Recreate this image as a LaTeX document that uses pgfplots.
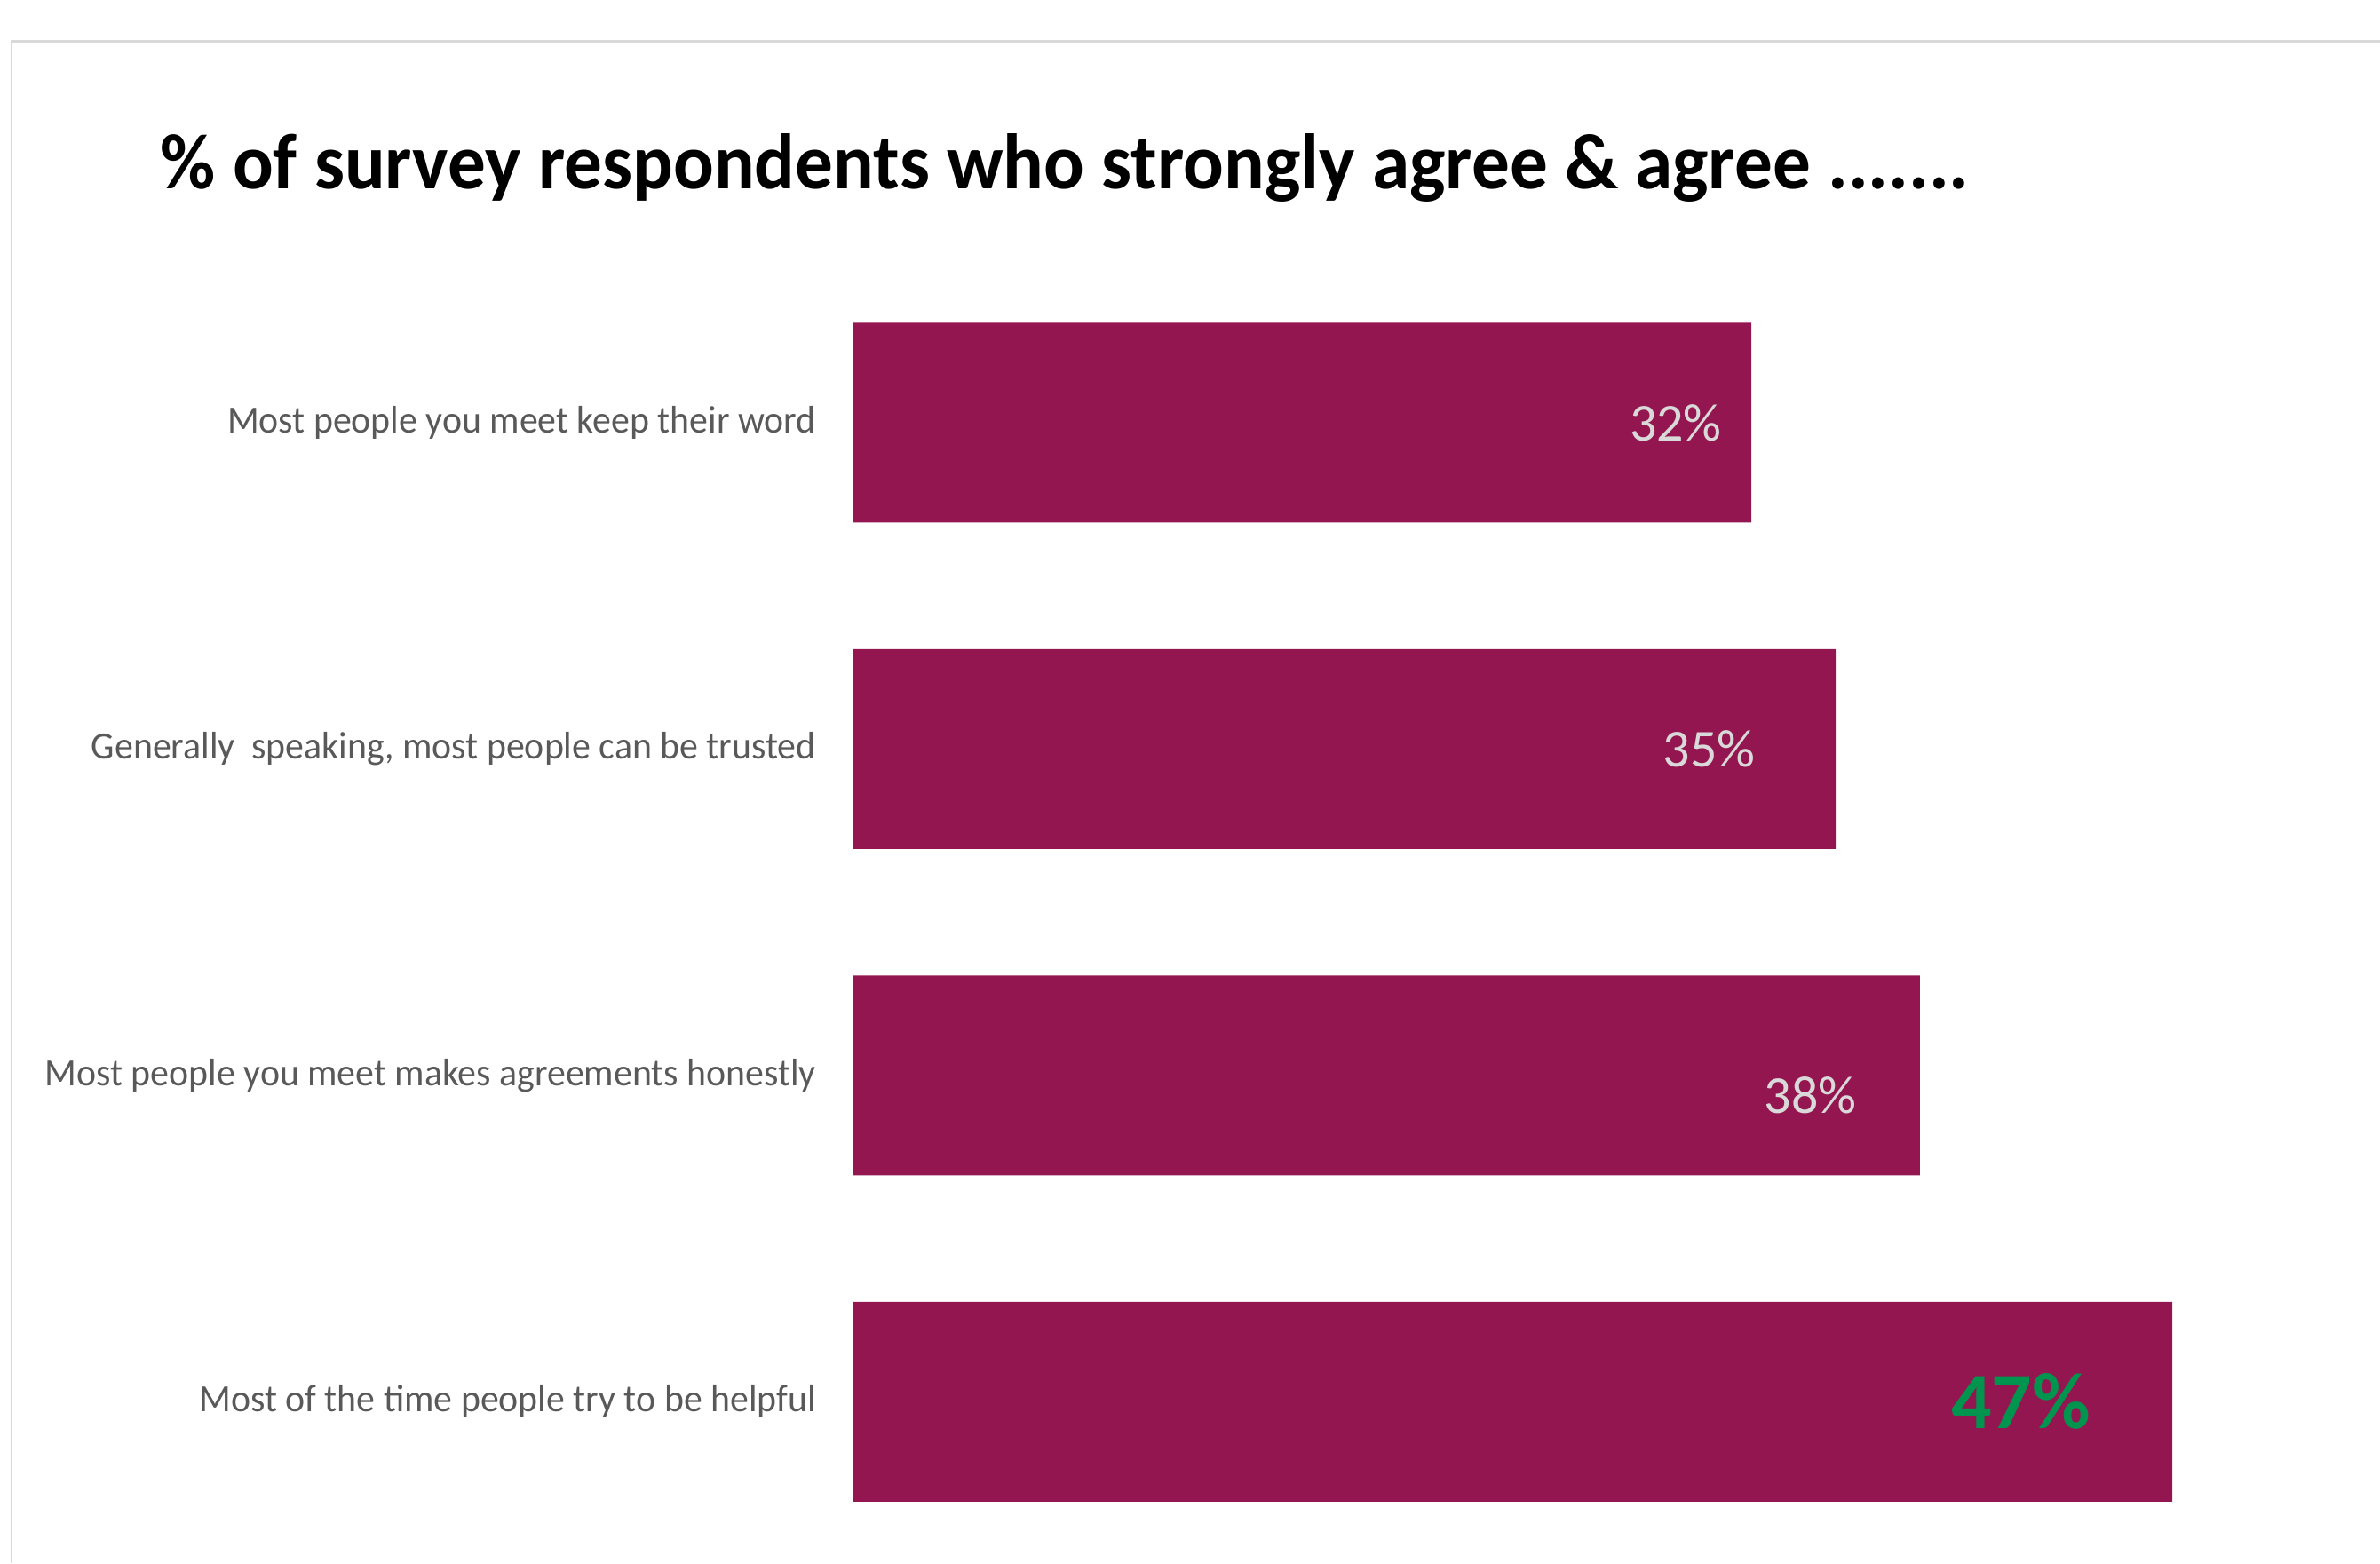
\documentclass[border=0pt]{standalone}
\usepackage{fontspec}
\setmainfont{Carlito}
\newfontfamily\titlefont[FakeStretch=0.965]{Carlito}
\newfontfamily\lblfont[FakeStretch=0.965]{Carlito}
\usepackage{pgfplots}
\pgfplotsset{compat=1.18}
\definecolor{barcol}{RGB}{148,22,80}
\definecolor{lblgray}{RGB}{89,89,89}
\definecolor{vallbl}{RGB}{217,217,217}
\definecolor{grn}{RGB}{0,148,79}
\definecolor{framecol}{RGB}{217,217,217}
\begin{document}
\begin{tikzpicture}
\path[use as bounding box] (0pt,0pt) rectangle (804pt,-528pt);
\draw[framecol, line width=0.8pt] (804pt,-14pt) -- (3.9pt,-14pt) -- (3.9pt,-528pt);
\node[anchor=base west, inner sep=0pt, font=\titlefont\bfseries\fontsize{26.5}{30}\selectfont] at (54pt,-63.6pt) {\% of survey respondents who strongly agree \& agree .......};
\begin{axis}[
  at={(288.3pt,-528.6pt)}, anchor=south west,
  scale only axis, width=474pt, height=441pt,
  xbar, bar width=67.5pt,
  xmin=0, xmax=50, ymin=-0.5, ymax=3.5, y dir=reverse,
  axis line style={draw=none},
  xtick=\empty,
  ytick={0,1,2,3},
  yticklabels={Most people you meet keep their word, Generally~ speaking{,} most people can be trusted, Most people you meet makes agreements honestly, Most of the time people try to be helpful},
  major tick length=0pt,
  tick style={draw=none},
  yticklabel style={anchor=east, inner sep=0pt, xshift=-12.5pt, font=\lblfont\fontsize{13}{15}\selectfont, text=lblgray},
  clip=false,
]
\addplot[fill=barcol, draw=none] coordinates {(32,0) (35,1) (38,2) (47,3)};
\node[text=vallbl, font=\fontsize{18}{20}\selectfont] at (axis cs:29.3,0) {32\%};
\node[text=vallbl, font=\fontsize{18}{20}\selectfont] at (axis cs:30.5,1) {35\%};
\node[text=vallbl, font=\fontsize{18}{20}\selectfont] at (axis cs:34.1,2.06) {38\%};
\node[text=grn, font=\bfseries\fontsize{27}{29}\selectfont] at (axis cs:41.6,3) {47\%};
\end{axis}
\end{tikzpicture}
\end{document}
